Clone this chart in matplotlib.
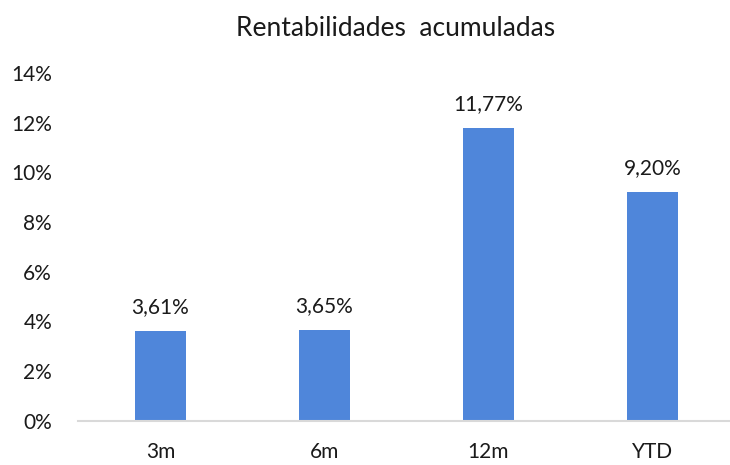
import matplotlib.pyplot as plt
from matplotlib.ticker import FuncFormatter

plt.rcParams['font.family'] = ['Lato', 'DejaVu Sans']

# data
periods = ['3m', '6m', '12m', 'YTD']
returns = [3.61, 3.65, 11.77, 9.20]
y_ticks = [0, 2, 4, 6, 8, 10, 12, 14]

bar_color = '#4F86DA'
text_color = '#1A1A1A'


def pct_label(v):
    return f"{v:.2f}%".replace('.', ',')


def main():
    fig = plt.figure(figsize=(7.3, 4.65), dpi=100)
    ax = fig.add_axes([0.1075, 0.0953, 0.8986, 0.7481])

    x = range(len(periods))
    bars = ax.bar(x, returns, width=0.31, color=bar_color, zorder=2)

    # value labels on top of bars
    for rect, v in zip(bars, returns):
        ax.annotate(pct_label(v),
                    xy=(rect.get_x() + rect.get_width() / 2, rect.get_height()),
                    xytext=(0, 10), textcoords='offset points',
                    ha='center', va='bottom', fontsize=15, color=text_color)

    ax.set_xlim(-0.5, len(periods) - 0.5)
    ax.set_ylim(0, 14)
    ax.set_yticks(y_ticks)
    ax.yaxis.set_major_formatter(FuncFormatter(lambda v, _: f"{v:.0f}%"))
    ax.set_xticks(list(x))
    ax.set_xticklabels(periods)

    for side in ['top', 'right', 'left']:
        ax.spines[side].set_visible(False)
    ax.spines['bottom'].set_color('#D9D9D9')
    ax.spines['bottom'].set_linewidth(1.5)

    ax.tick_params(axis='both', length=0, labelsize=15, colors=text_color)
    ax.tick_params(axis='y', pad=19)
    ax.tick_params(axis='x', pad=15)

    fig.text(396 / 730, 1 - 28 / 465, 'Rentabilidades  acumuladas',
             ha='center', va='center', fontsize=19, color=text_color)

    plt.savefig('out.png', dpi=100)


if __name__ == '__main__':
    main()
